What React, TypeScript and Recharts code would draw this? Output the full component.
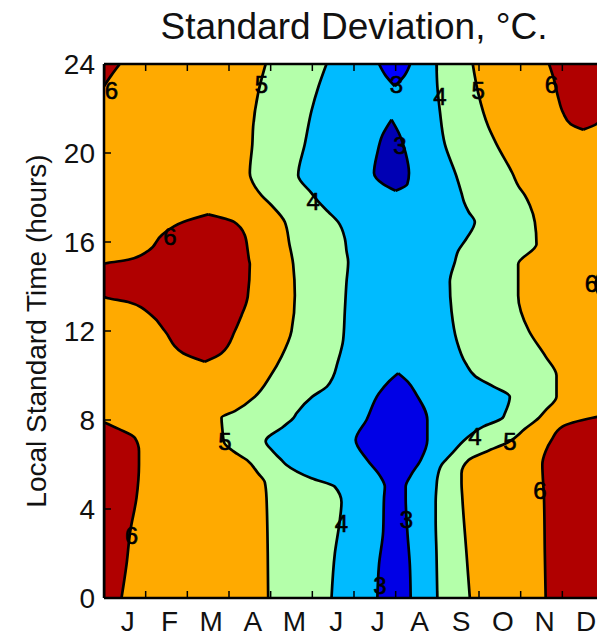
import React from "react";
import { ComposedChart, Area, XAxis, YAxis, ReferenceDot } from "recharts";

// rows are [hour, left month, right month]
type Row = [number, number, number];

const months = ["J", "F", "M", "A", "M", "J", "J", "A", "S", "O", "N", "D"];
const hourTicks = [0, 4, 8, 12, 16, 20, 24];
const innerHourTicks = [4, 8, 12, 16, 20];
const monthEdges = [1, 2, 3, 4, 5, 6, 7, 8, 9, 10, 11];
const monthCenters = months.map((_, i) => i + 0.5);

const fullField: Row[] = [
  [0, 0, 12],
  [24, 0, 12],
];

// 5 degree contour: green band between the two orange sides
const band5: Row[] = [
  [0, 3.94, 8.78],
  [2, 3.93, 8.7],
  [4.5, 3.9, 8.6],
  [5.2, 3.86, 8.58],
  [5.6, 3.7, 8.58],
  [6.2, 3.43, 8.75],
  [6.6, 3.1, 9.2],
  [7.0, 2.88, 9.7],
  [7.6, 2.84, 10.1],
  [8.1, 2.82, 10.44],
  [8.4, 3.14, 10.58],
  [9.05, 3.62, 10.86],
  [10, 4.0, 10.86],
  [10.85, 4.26, 10.6],
  [12, 4.5, 10.2],
  [13.6, 4.58, 9.94],
  [15, 4.54, 9.94],
  [15.9, 4.45, 10.38],
  [16.9, 4.34, 10.34],
  [17.65, 4.02, 10.22],
  [18.1, 3.78, 10.1],
  [18.5, 3.62, 9.95],
  [19.1, 3.5, 9.8],
  [20.4, 3.56, 9.42],
  [21.2, 3.58, 9.22],
  [22.7, 3.7, 8.98],
  [24, 3.88, 8.85],
];

// 4 degree contour: light blue band
const band4: Row[] = [
  [0, 5.46, 8.0],
  [2, 5.54, 7.98],
  [3.5, 5.66, 7.96],
  [4.3, 5.7, 7.96],
  [5.0, 5.54, 7.98],
  [5.38, 4.98, 8.0],
  [5.98, 4.38, 8.1],
  [6.2, 4.26, 8.2],
  [6.6, 4.05, 8.4],
  [7.05, 3.88, 8.62],
  [7.7, 4.3, 9.1],
  [8.1, 4.55, 9.57],
  [8.3, 4.62, 9.62],
  [9.05, 5.0, 9.74],
  [9.5, 5.35, 9.35],
  [9.95, 5.5, 8.92],
  [10.55, 5.6, 8.68],
  [11.6, 5.74, 8.46],
  [12.9, 5.78, 8.34],
  [14.2, 5.82, 8.3],
  [15.1, 5.86, 8.42],
  [15.6, 5.82, 8.5],
  [16.16, 5.78, 8.7],
  [16.9, 5.62, 8.9],
  [17.36, 5.38, 8.75],
  [17.8, 5.15, 8.64],
  [18.2, 4.98, 8.58],
  [19.0, 4.66, 8.45],
  [20.4, 4.82, 8.18],
  [21.9, 4.98, 8.06],
  [23, 5.15, 8.0],
  [24, 5.34, 7.98],
];

// 3 degree regions
const julyColumn: Row[] = [
  [0, 6.56, 7.36],
  [1.5, 6.6, 7.34],
  [3, 6.7, 7.28],
  [4.5, 6.72, 7.24],
  [5.0, 6.74, 7.24],
  [5.5, 6.62, 7.36],
  [6.2, 6.32, 7.6],
  [7.1, 6.04, 7.76],
  [8.0, 6.3, 7.76],
  [9.2, 6.6, 7.48],
  [9.7, 6.82, 7.3],
  [10.1, 7.06, 7.06],
];

const eveningBlob: Row[] = [
  [18.3, 7.0, 7.0],
  [18.6, 6.7, 7.28],
  [19.1, 6.48, 7.32],
  [20.0, 6.56, 7.24],
  [20.8, 6.68, 7.1],
  [21.5, 6.9, 6.9],
];

const midnightTip: Row[] = [
  [23.0, 6.98, 6.98],
  [23.5, 6.75, 7.22],
  [24, 6.6, 7.35],
];

// 6 degree regions
const janMorning: Row[] = [
  [0, 0, 0.42],
  [1.5, 0, 0.54],
  [3, 0, 0.63],
  [4.5, 0, 0.78],
  [6.0, 0, 0.84],
  [6.6, 0, 0.84],
  [7.2, 0, 0.74],
  [7.6, 0, 0.35],
  [7.9, 0, 0],
];

const janNight: Row[] = [
  [23.0, 0, 0],
  [23.5, 0, 0.18],
  [24, 0, 0.38],
];

const winterAfternoon: Row[] = [
  [10.62, 2.42, 2.42],
  [11.0, 1.9, 2.82],
  [12.0, 1.46, 3.14],
  [12.7, 1.14, 3.3],
  [13.3, 0.58, 3.42],
  [13.55, 0, 3.45],
  [15.0, 0, 3.5],
  [15.2, 0.58, 3.48],
  [15.6, 1.06, 3.45],
  [16.3, 1.38, 3.38],
  [16.9, 1.9, 3.12],
  [17.24, 2.5, 2.5],
];

const decMorning: Row[] = [
  [0, 10.6, 12],
  [2, 10.58, 12],
  [4.5, 10.56, 12],
  [6.0, 10.52, 12],
  [6.6, 10.6, 12],
  [7.1, 10.74, 12],
  [7.7, 11.0, 12],
  [8.1, 11.73, 12],
  [8.2, 12, 12],
];

const decNight: Row[] = [
  [21.05, 11.5, 11.5],
  [21.3, 11.2, 11.82],
  [21.8, 11.02, 12],
  [22.5, 10.9, 12],
  [23.3, 10.8, 12],
  [24, 10.68, 12],
];

const decAfternoon: Row[] = [
  [13.2, 12, 12],
  [14.1, 11.8, 12],
  [15.0, 12, 12],
];

const contourLabels = [
  { m: 0.18, h: 22.8, t: "6" },
  { m: 3.78, h: 23.06, t: "5" },
  { m: 7.02, h: 23.06, t: "3" },
  { m: 8.06, h: 22.53, t: "4" },
  { m: 8.98, h: 22.83, t: "5" },
  { m: 10.74, h: 23.06, t: "6" },
  { m: 7.1, h: 20.36, t: "3" },
  { m: 5.02, h: 17.81, t: "4" },
  { m: 1.58, h: 16.24, t: "6" },
  { m: 11.7, h: 14.14, t: "6" },
  { m: 2.9, h: 7.03, t: "5" },
  { m: 8.9, h: 7.25, t: "4" },
  { m: 9.74, h: 7.03, t: "5" },
  { m: 10.46, h: 4.85, t: "6" },
  { m: 0.66, h: 2.83, t: "6" },
  { m: 5.7, h: 3.36, t: "4" },
  { m: 7.26, h: 3.51, t: "3" },
  { m: 6.62, h: 0.58, t: "3" },
];

const RED = "#b00000";
const ORANGE = "#ffaa00";
const GREEN = "#b4ffaa";
const CYAN = "#00bbff";
const BLUE = "#0000e6";
const BRIGHT_BLUE = "#0000ff";
const NAVY = "#0000b4";

const toRows = (rows: Row[]) => rows.map(([h, lo, hi]) => ({ h, v: [lo, hi] }));

const regions: { name: string; rows: Row[]; color: string; line: boolean }[] = [
  { name: "field", rows: fullField, color: ORANGE, line: false },
  { name: "band5", rows: band5, color: GREEN, line: true },
  { name: "band4", rows: band4, color: CYAN, line: true },
  { name: "julyColumn", rows: julyColumn, color: BLUE, line: true },
  { name: "eveningBlob", rows: eveningBlob, color: NAVY, line: true },
  { name: "midnightTip", rows: midnightTip, color: BRIGHT_BLUE, line: true },
  { name: "janMorning", rows: janMorning, color: RED, line: true },
  { name: "janNight", rows: janNight, color: RED, line: true },
  { name: "winterAfternoon", rows: winterAfternoon, color: RED, line: true },
  { name: "decMorning", rows: decMorning, color: RED, line: true },
  { name: "decNight", rows: decNight, color: RED, line: true },
  { name: "decAfternoon", rows: decAfternoon, color: RED, line: true },
];

const font = '"Liberation Sans", Arial, Helvetica, sans-serif';
const frame = { stroke: "#000", strokeWidth: 2.5 };
const W = 620;
const H = 644;
const TICK = 7;
const TEXT = "#111";

// inward tick mark, drawn as the shape of a reference dot sitting on the frame
const tickShape = (dx: number, dy: number) => (p: any) => (
  <line
    x1={p.cx}
    y1={p.cy}
    x2={p.cx + dx * TICK}
    y2={p.cy + dy * TICK}
    stroke="#000"
    strokeWidth={1.5}
  />
);
const bottomTickShape = tickShape(0, -1);
const topTickShape = tickShape(0, 1);
const leftTickShape = tickShape(1, 0);

export default function App() {
  return (
    <div
      style={{
        position: "fixed",
        left: 0,
        top: 0,
        width: 597,
        height: 644,
        overflow: "hidden",
        background: "#fff",
        fontFamily: font,
      }}
    >
      <div
        style={{
          position: "absolute",
          left: 104,
          top: 6,
          width: 500,
          textAlign: "center",
          fontSize: 37,
          color: TEXT,
          zIndex: 3,
        }}
      >
        Standard Deviation, °C.
      </div>

      {/* filled contours, contour labels and inward tick marks */}
      <div style={{ position: "absolute", left: 0, top: 0, zIndex: 1 }}>
        <ComposedChart
          width={W}
          height={H}
          layout="vertical"
          margin={{ top: 64, right: 16, bottom: 46, left: 104 }}
        >
          <XAxis xAxisId="x" type="number" domain={[0, 12]} allowDataOverflow hide />
          <YAxis
            yAxisId="y"
            type="number"
            dataKey="h"
            domain={[0, 24]}
            allowDataOverflow
            reversed
            hide
          />
          {regions.map((r) => (
            <Area
              key={r.name}
              xAxisId="x"
              yAxisId="y"
              data={toRows(r.rows)}
              dataKey="v"
              type="monotone"
              fill={r.color}
              fillOpacity={1}
              stroke={r.line ? "#000" : "none"}
              strokeWidth={2.7}
              dot={false}
              activeDot={false}
              isAnimationActive={false}
            />
          ))}
          {contourLabels.map((c, i) => (
            <ReferenceDot
              key={`lab${i}`}
              xAxisId="x"
              yAxisId="y"
              x={c.m}
              y={c.h}
              r={0}
              fill="none"
              stroke="none"
              label={{
                value: c.t,
                position: "center",
                fontSize: 24,
                fill: "#000",
                stroke: "#000",
                strokeWidth: 0.6,
              }}
            />
          ))}
          {monthEdges.map((m) => (
            <ReferenceDot
              key={`b${m}`}
              xAxisId="x"
              yAxisId="y"
              x={m}
              y={0}
              r={1}
              ifOverflow="visible"
              shape={bottomTickShape}
            />
          ))}
          {monthEdges.map((m) => (
            <ReferenceDot
              key={`t${m}`}
              xAxisId="x"
              yAxisId="y"
              x={m}
              y={24}
              r={1}
              ifOverflow="visible"
              shape={topTickShape}
            />
          ))}
          {innerHourTicks.map((h) => (
            <ReferenceDot
              key={`l${h}`}
              xAxisId="x"
              yAxisId="y"
              x={0}
              y={h}
              r={1}
              ifOverflow="visible"
              shape={leftTickShape}
            />
          ))}
        </ComposedChart>
      </div>

      {/* frame and tick labels */}
      <div style={{ position: "absolute", left: 0, top: 0, zIndex: 2, pointerEvents: "none" }}>
        <ComposedChart
          width={W}
          height={H}
          layout="vertical"
          margin={{ top: 64, right: 16, bottom: 0, left: 0 }}
        >
          <Area
            xAxisId="months"
            yAxisId="hours"
            data={toRows(fullField)}
            dataKey="v"
            fill="none"
            stroke="none"
            dot={false}
            activeDot={false}
            isAnimationActive={false}
          />
          <XAxis
            xAxisId="top"
            type="number"
            domain={[0, 12]}
            allowDataOverflow
            ticks={monthEdges}
            interval={0}
            orientation="top"
            mirror
            tick={false}
            tickLine={false}
            axisLine={frame}
          />
          <XAxis
            xAxisId="months"
            type="number"
            domain={[0, 12]}
            allowDataOverflow
            ticks={monthCenters}
            interval={0}
            orientation="bottom"
            height={46}
            tickSize={0}
            tickMargin={13}
            tickLine={false}
            tickFormatter={(v: number) => months[Math.floor(v)]}
            tick={{ fontSize: 28, fill: TEXT, dx: 3 }}
            axisLine={frame}
          />
          <YAxis
            yAxisId="hours"
            type="number"
            dataKey="h"
            domain={[0, 24]}
            allowDataOverflow
            reversed
            ticks={hourTicks}
            interval={0}
            width={104}
            tickSize={0}
            tickMargin={9}
            tickLine={false}
            tick={{ fontSize: 28, fill: TEXT }}
            axisLine={frame}
            label={{
              value: "Local Standard Time (hours)",
              angle: -90,
              position: "center",
              dx: -16,
              fontSize: 28,
              fill: TEXT,
            }}
          />
        </ComposedChart>
      </div>
    </div>
  );
}
